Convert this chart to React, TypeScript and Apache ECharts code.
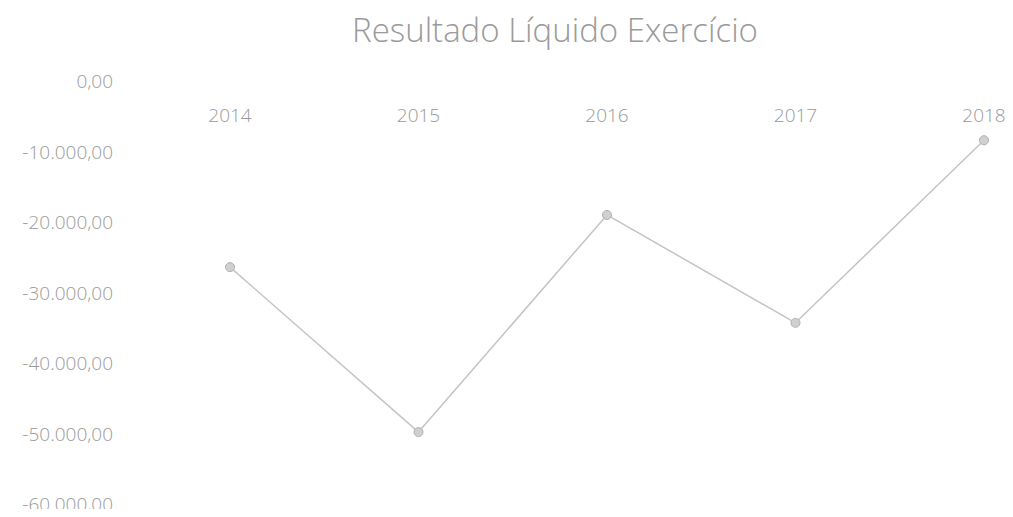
import React, { useEffect, useRef } from "react";
import * as echarts from "echarts";

const categories = ["2014", "2015", "2016", "2017", "2018"];
const resultado = [-26400, -49800, -19000, -34300, -8400];
const yTicks = { min: -60000, max: 0, interval: 10000 };

function fmt(v: number): string {
  const neg = v < 0;
  const a = Math.abs(Math.round(v));
  const s = String(a).replace(/\B(?=(\d{3})+(?!\d))/g, ".");
  return (neg ? "-" : "") + s + ",00";
}

export default function App() {
  const ref = useRef<HTMLDivElement>(null);
  useEffect(() => {
    if (!ref.current) return;
    const chart = echarts.init(ref.current, undefined, { renderer: "svg" });
    chart.setOption({
      animation: false,
      backgroundColor: "#ffffff",
      title: {
        text: "Resultado Líquido Exercício",
        left: 550,
        textAlign: "center",
        top: 8,
        textStyle: {
          color: "#9a9a9a",
          fontSize: 33,
          fontWeight: "lighter",
          fontFamily: "Open Sans, sans-serif",
        },
      },
      grid: { left: 230, right: 29, top: 81, bottom: 13, containLabel: false },
      xAxis: {
        type: "category",
        data: categories,
        position: "top",
        boundaryGap: false,
        axisLine: { show: false },
        axisTick: { show: false },
        splitLine: { show: false },
        axisLabel: {
          inside: true,
          margin: 24,
          color: "#9a9a9a",
          fontSize: 19,
          fontWeight: "lighter",
          fontFamily: "Open Sans, sans-serif",
        },
      },
      yAxis: {
        type: "value",
        min: yTicks.min,
        max: yTicks.max,
        interval: yTicks.interval,
        axisLine: { show: false },
        axisTick: { show: false },
        splitLine: { show: false },
        axisLabel: {
          margin: 117,
          color: "#9a9a9a",
          fontSize: 19,
          fontWeight: "lighter",
          fontFamily: "Open Sans, sans-serif",
          formatter: (v: number) => fmt(v),
        },
      },
      series: [
        {
          type: "line",
          data: resultado,
          symbol: "circle",
          symbolSize: 9,
          lineStyle: { color: "#c4c4c4", width: 1.5 },
          itemStyle: { color: "#d0d0d0", borderColor: "#b0b0b0", borderWidth: 1 },
        },
      ],
    });
    return () => chart.dispose();
  }, []);
  return <div ref={ref} style={{ width: 1013, height: 517, margin: -8 }} />;
}
